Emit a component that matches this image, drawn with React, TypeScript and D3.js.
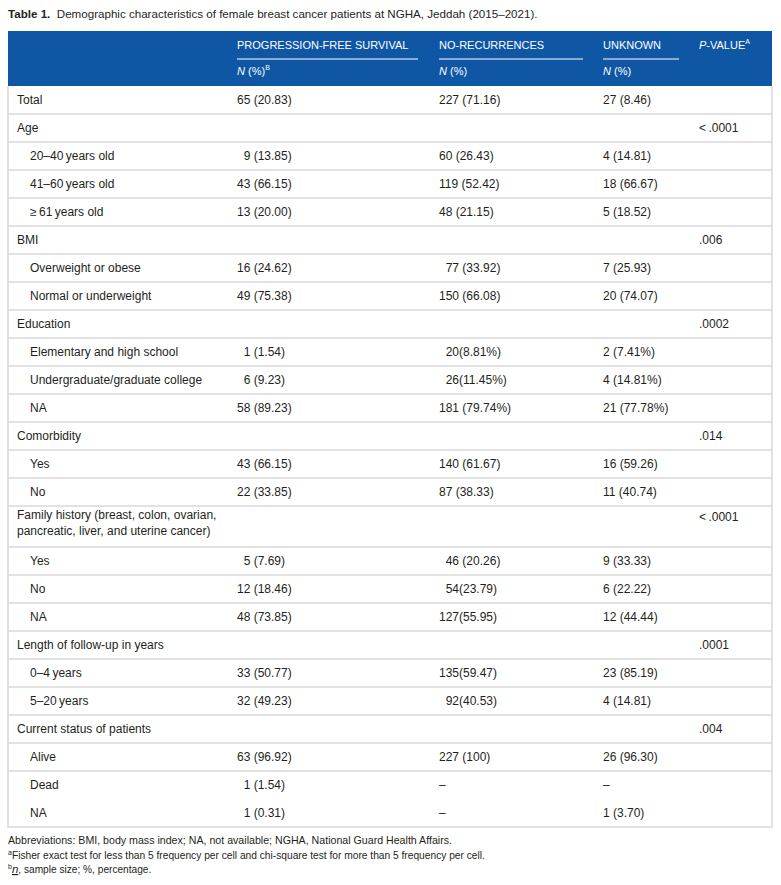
import { useEffect, useRef } from "react";
import * as d3 from 'd3'

// table content
const title = 'Demographic characteristics of female breast cancer patients at NGHA, Jeddah (2015–2021).'
const columnHeads = ['PROGRESSION-FREE SURVIVAL', 'NO-RECURRENCES', 'UNKNOWN']
const rowLabels = [
    'Total',
    'Age', '20–40\u2009years old', '41–60\u2009years old', '≥\u200961\u2009years old',
    'BMI', 'Overweight or obese', 'Normal or underweight',
    'Education', 'Elementary and high school', 'Undergraduate/graduate college', 'NA',
    'Comorbidity', 'Yes', 'No',
    'Family history (breast, colon, ovarian,\npancreatic, liver, and uterine cancer)', 'Yes', 'No', 'NA',
    'Length of follow-up in years', '0–4\u2009years', '5–20\u2009years',
    'Current status of patients', 'Alive', 'Dead', 'NA'
]
const rowKinds = [
    'group',
    'group', 'item', 'item', 'item',
    'group', 'item', 'item',
    'group', 'item', 'item', 'item',
    'group', 'item', 'item',
    'group', 'item', 'item', 'item',
    'group', 'item', 'item',
    'group', 'item', 'item', 'item'
]
const pfsValues = [
    '65 (20.83)',
    '', '\u20079 (13.85)', '43 (66.15)', '13 (20.00)',
    '', '16 (24.62)', '49 (75.38)',
    '', '\u20071 (1.54)', '\u20076 (9.23)', '58 (89.23)',
    '', '43 (66.15)', '22 (33.85)',
    '', '\u20075 (7.69)', '12 (18.46)', '48 (73.85)',
    '', '33 (50.77)', '32 (49.23)',
    '', '63 (96.92)', '\u20071 (1.54)', '\u20071 (0.31)'
]
const noRecValues = [
    '227 (71.16)',
    '', '60 (26.43)', '119 (52.42)', '48 (21.15)',
    '', '\u200777 (33.92)', '150 (66.08)',
    '', '\u200720(8.81%)', '\u200726(11.45%)', '181 (79.74%)',
    '', '140 (61.67)', '87 (38.33)',
    '', '\u200746 (20.26)', '\u200754(23.79)', '127(55.95)',
    '', '135(59.47)', '\u200792(40.53)',
    '', '227 (100)', '–', '–'
]
const unknownValues = [
    '27 (8.46)',
    '', '4 (14.81)', '18 (66.67)', '5 (18.52)',
    '', '7 (25.93)', '20 (74.07)',
    '', '2 (7.41%)', '4 (14.81%)', '21 (77.78%)',
    '', '16 (59.26)', '11 (40.74)',
    '', '9 (33.33)', '6 (22.22)', '12 (44.44)',
    '', '23 (85.19)', '4 (14.81)',
    '', '26 (96.30)', '–', '1 (3.70)'
]
const pValues = [
    '',
    '<\u2009.0001', '', '', '',
    '.006', '', '',
    '.0002', '', '', '',
    '.014', '', '',
    '<\u2009.0001', '', '', '',
    '.0001', '', '',
    '.004', '', '', ''
]
const notes = [
    'Abbreviations: BMI, body mass index; NA, not available; NGHA, National Guard Health Affairs.',
    'Fisher exact test for less than 5 frequency per cell and chi-square test for more than 5 frequency per cell.',
    ', sample size; %, percentage.'
]

const FONT = '"Liberation Sans", Arial, Helvetica, sans-serif'
const BLUE = '#0f56a5'
const INK = '#231f20'
const RULE = '#d9d9d9'

function drawTable(svgRef: any) {
    const svg = d3.select(svgRef.current)
    svg.selectAll('*').remove()

    const left = 8, right = 772
    const headTop = 31, headBottom = 86
    const colX = [237, 439, 603, 699]
    const ruleEnd = [418, 583, 679]

    // title
    const t = svg.append('text')
        .attr('x', 8).attr('y', 18)
        .attr('font-family', FONT).attr('font-size', 11.6).attr('fill', INK)
    t.append('tspan').attr('font-weight', 'bold').text('Table 1.')
    t.append('tspan').text('\u00a0 ' + title)

    // header band
    svg.append('rect')
        .attr('x', left).attr('y', headTop)
        .attr('width', right - left).attr('height', headBottom - headTop)
        .attr('fill', BLUE)

    columnHeads.forEach((h, i) => {
        svg.append('text')
            .attr('x', colX[i]).attr('y', 45)
            .attr('dominant-baseline', 'central')
            .attr('font-family', FONT).attr('font-size', 11).attr('fill', 'white')
            .text(h)
        svg.append('line')
            .attr('x1', colX[i]).attr('x2', ruleEnd[i])
            .attr('y1', 59).attr('y2', 59)
            .attr('stroke', 'white').attr('stroke-width', 1)
        const n = svg.append('text')
            .attr('x', colX[i]).attr('y', 71)
            .attr('dominant-baseline', 'central')
            .attr('font-family', FONT).attr('font-size', 11).attr('fill', 'white')
        n.append('tspan').attr('font-style', 'italic').text('N')
        n.append('tspan').text(' (%)')
        if (i === 0)
            n.append('tspan').attr('font-size', 7).attr('dy', -4).text('B')
    })
    const pv = svg.append('text')
        .attr('x', colX[3]).attr('y', 45)
        .attr('dominant-baseline', 'central')
        .attr('font-family', FONT).attr('font-size', 11).attr('fill', 'white')
    pv.append('tspan').attr('font-style', 'italic').text('P')
    pv.append('tspan').text('-VALUE')
    pv.append('tspan').attr('font-size', 7).attr('dy', -4).text('A')

    // body rows
    const heights = rowLabels.map(l => l.includes('\n') ? 41 : 28)
    const tops = [headBottom, ...Array.from(d3.cumsum(heights)).map(c => headBottom + c)]
    const bottom = tops[tops.length - 1]

    rowLabels.forEach((label, i) => {
        const y0 = tops[i], y1 = tops[i + 1]
        const cy = (y0 + y1) / 2
        const lx = rowKinds[i] === 'group' ? 17 : 30
        const lines = label.split('\n')
        lines.forEach((ln, j) => {
            svg.append('text')
                .attr('x', lx)
                .attr('y', lines.length > 1 ? y0 + 9 + j * 16 : cy)
                .attr('dominant-baseline', 'central')
                .attr('font-family', FONT).attr('font-size', 12).attr('fill', INK)
                .text(ln)
        })
        const cells = [pfsValues[i], noRecValues[i], unknownValues[i], pValues[i]]
        cells.forEach((c, k) => {
            if (!c) return
            svg.append('text')
                .attr('x', colX[k]).attr('y', lines.length > 1 ? y0 + 11 : cy)
                .attr('dominant-baseline', 'central')
                .attr('font-family', FONT).attr('font-size', 12).attr('fill', INK)
                .text(c)
        })
        // separator under the row, none between the last two
        if (i < rowLabels.length - 2)
            svg.append('line')
                .attr('x1', left).attr('x2', right)
                .attr('y1', y1).attr('y2', y1)
                .attr('stroke', RULE).attr('stroke-width', 1.5)
    })

    // frame of the body
    svg.append('path')
        .attr('d', `M${left},${headBottom}V${bottom}H${right}V${headBottom}`)
        .attr('fill', 'none')
        .attr('stroke', RULE).attr('stroke-width', 1.5)

    // notes, set in a condensed face
    const noteY = [bottom + 17, bottom + 32, bottom + 46]
    const noteFont = '"Liberation Sans Narrow", "Arial Narrow", ' + FONT
    svg.append('text')
        .attr('x', 8).attr('y', noteY[0])
        .attr('font-family', noteFont).attr('font-size', 11.5).attr('fill', INK)
        .attr('textLength', 444).attr('lengthAdjust', 'spacingAndGlyphs')
        .text(notes[0])
    const a = svg.append('text')
        .attr('x', 8).attr('y', noteY[1])
        .attr('font-family', noteFont).attr('font-size', 11.5).attr('fill', INK)
    a.append('tspan').attr('font-size', 7).attr('dy', -4).text('a')
    a.append('tspan').attr('dy', 4)
        .attr('textLength', 473).attr('lengthAdjust', 'spacingAndGlyphs')
        .text(notes[1])
    const b = svg.append('text')
        .attr('x', 8).attr('y', noteY[2])
        .attr('font-family', noteFont).attr('font-size', 11.5).attr('fill', INK)
    b.append('tspan').attr('font-size', 7).attr('dy', -4).text('b')
    b.append('tspan').attr('dy', 4).attr('font-style', 'italic')
        .attr('text-decoration', 'underline').text('n')
    b.append('tspan')
        .attr('textLength', 133).attr('lengthAdjust', 'spacingAndGlyphs')
        .text(notes[2])
}

export default function App() {
    const svgRef = useRef<SVGSVGElement>(null)
    useEffect(() => {
        document.body.style.margin = '0'
        drawTable(svgRef)
    }, [])
    return (
        <svg ref={svgRef} width={781} height={885} style={{ display: 'block', background: 'white' }} />
    )
}
